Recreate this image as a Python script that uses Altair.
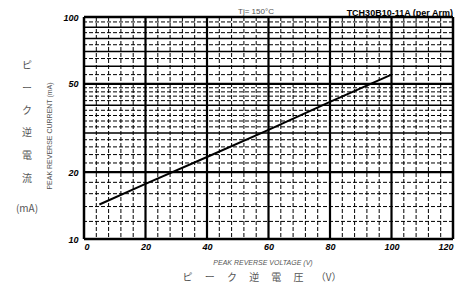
import altair as alt
import pandas as pd

# ---- data ----
voltage = [5, 20, 40, 60, 80, 100]
current = [14.3, 17.7, 23.4, 31.0, 41.5, 55.0]

x_ticks = [0, 20, 40, 60, 80, 100, 120]
y_ticks = [10, 20, 50, 100]

x_border = [0, 120]
x_major = [20, 40, 60, 80, 100]
x_minor = [v for v in range(4, 120, 4) if v % 20 != 0]

y_border = [10, 100]
y_major = [20, 50]
y_solid = [30, 40, 60, 70, 80, 90]
y_minor = [12, 14, 16, 18, 22, 24, 26, 28, 32, 34, 36, 38, 42, 44, 46, 48,
           55, 65, 75, 85, 95]

W, H = 369, 222
xs = alt.Scale(domain=[0, 120], nice=False, zero=False)
ys = alt.Scale(type="log", domain=[10, 100], nice=False)

lab = dict(labelFont="Liberation Sans", labelFontSize=9, labelFontWeight="bold",
           labelFontStyle="italic", labelColor="black")
xaxis = alt.Axis(values=x_ticks, title=None, grid=False, ticks=False, domain=False,
                 labelPadding=3, **lab)
yaxis = alt.Axis(values=y_ticks, title=None, grid=False, ticks=False, domain=False,
                 labelPadding=6, format="d", **lab)

def vrules(vals, width, dash=None):
    m = alt.Chart(pd.DataFrame({"v": vals})).mark_rule(
        color="black", strokeWidth=width, **({"strokeDash": dash} if dash else {}))
    return m.encode(x=alt.X("v:Q", scale=xs, axis=xaxis))

def hrules(vals, width, dash=None):
    m = alt.Chart(pd.DataFrame({"h": vals})).mark_rule(
        color="black", strokeWidth=width, **({"strokeDash": dash} if dash else {}))
    return m.encode(y=alt.Y("h:Q", scale=ys, axis=yaxis))

def label(txt, x, y, **kw):
    return alt.Chart(pd.DataFrame({"t": [txt]})).mark_text(**kw).encode(
        text="t:N", x=alt.value(x), y=alt.value(y))

line = alt.Chart(pd.DataFrame({"V": voltage, "I": current})).mark_line(
    color="black", strokeWidth=2
).encode(
    x=alt.X("V:Q", scale=xs, axis=xaxis),
    y=alt.Y("I:Q", scale=ys, axis=yaxis),
)

gray = "#555555"
texts = [
    label("Tj= 150°C", 172, -5, font="Liberation Sans", fontSize=8, color=gray,
          align="center", baseline="middle"),
    label("TCH30B10-11A (per Arm)", W, -4, font="Liberation Sans", fontSize=9,
          fontWeight="bold", color="black", align="right", baseline="middle"),
    label("PEAK REVERSE CURRENT (mA)", -34, 119, font="Liberation Sans",
          fontSize=7, color=gray, angle=270, align="center", baseline="middle"),
    label("PEAK REVERSE VOLTAGE (V)", 179, 246, font="Liberation Sans",
          fontSize=7, color=gray, fontStyle="italic", align="center", baseline="middle"),
    label("ピ　 ー　 ク　 逆　 電　 圧　 （V）", 178, 261, font="Noto Sans CJK JP",
          fontSize=10, color=gray, align="center", baseline="middle"),
]
for ch, yy in zip(["ピ", "ー", "ク", "逆", "電", "流", "(mA)"],
                  [49, 72, 94, 116, 139, 162, 192]):
    texts.append(label(ch, -57, yy, font="Noto Sans CJK JP", fontSize=10,
                       color=gray, align="center", baseline="middle"))

chart = alt.layer(
    vrules(x_minor, 1, [4, 2]),
    hrules(y_minor, 1, [4, 2]),
    hrules(y_solid, 1.5),
    hrules(y_major, 2.2),
    vrules(x_major, 2.2),
    vrules(x_border, 2.5),
    hrules(y_border, 2.5),
    line,
    *texts,
).properties(
    width=W, height=H,
    autosize=alt.AutoSizeParams(type="none"),
    padding={"left": 76, "top": 9, "right": 13, "bottom": 46},
).configure_view(stroke=None)

chart.save("out.html", embed_options={"renderer": "svg", "actions": False})
